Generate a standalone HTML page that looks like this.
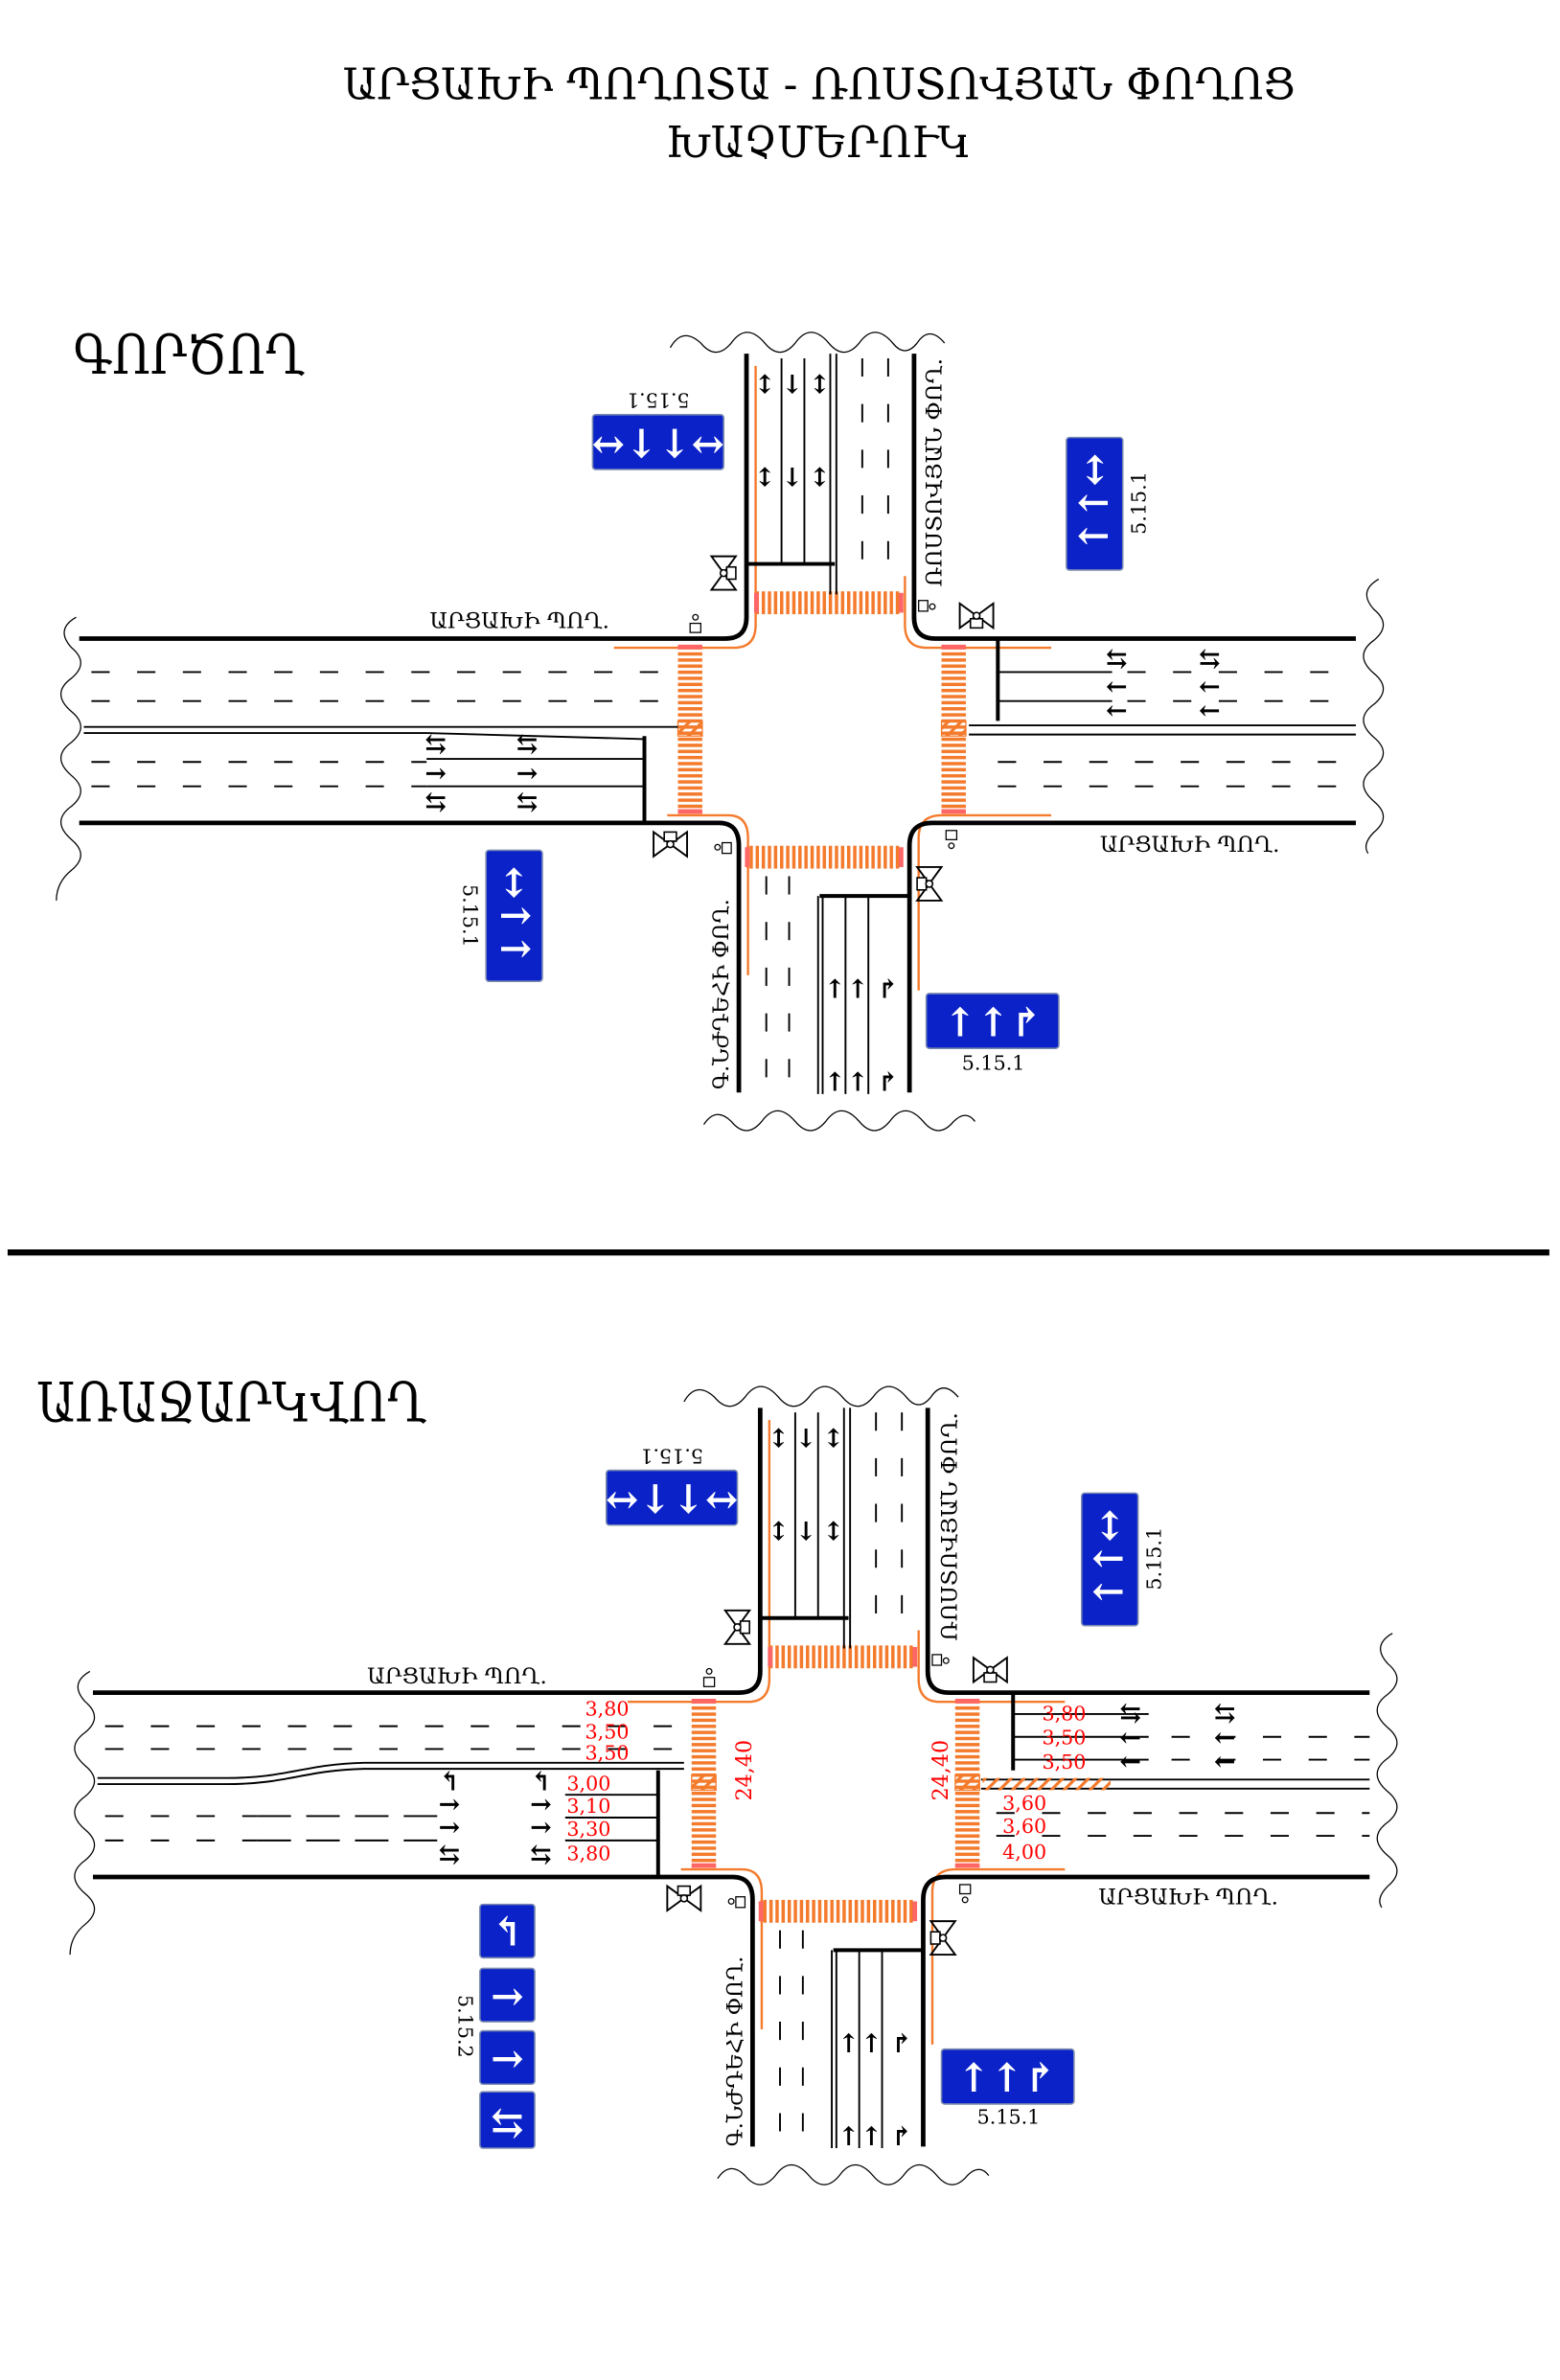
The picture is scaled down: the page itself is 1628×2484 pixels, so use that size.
<!DOCTYPE html>
<html><head><meta charset="utf-8"><style>
html,body{margin:0;padding:0;background:#fff}
svg{display:block}
text{font-family:"DejaVu Serif","DejaVu Sans",serif}
.s{font-family:"Liberation Sans","DejaVu Sans",sans-serif}
</style></head><body>
<svg width="1628" height="2484" viewBox="0 0 1024 1562" xmlns="http://www.w3.org/2000/svg">
<defs>
<pattern id="vs" width="4" height="10" patternUnits="userSpaceOnUse"><rect width="2.2" height="10" fill="#f47a2c"/></pattern>
<pattern id="hs" width="10" height="4" patternUnits="userSpaceOnUse"><rect width="10" height="2.2" fill="#f47a2c"/></pattern>
<pattern id="hatch" width="6" height="6" patternUnits="userSpaceOnUse" patternTransform="rotate(45)"><rect width="2" height="6" fill="#f47a2c"/></pattern>
<g id="sig">
<path d="M-8,-11 L8,-11 L0,0 Z M-8,11 L8,11 L0,0 Z" fill="none" stroke="#000" stroke-width="1.2"/>
<rect x="2" y="-4" width="6" height="8" fill="#fff" stroke="#000"/>
<circle cx="0" cy="0" r="2.2" fill="#fff" stroke="#000"/>
</g>
<g id="base">
<g fill="none" stroke="#f47a2c" stroke-width="1.5">
<path d="M403,425 H482 Q496,425 496,410 V240"/>
<path d="M594,378 V410 Q594,425 608,425 H690"/>
<path d="M438,535 H478 Q491,535 491,550 V640"/>
<path d="M603,650 V550 Q603,535 618,535 H690"/>
</g>
<g fill="none" stroke="#000" stroke-width="3">
<path d="M52,419 H476 Q490,419 490,405 V232"/>
<path d="M600,232 V405 Q600,419 614,419 H890"/>
<path d="M52,540 H472 Q485,540 485,555 V717"/>
<path d="M597,717 V555 Q597,540 612,540 H890"/>
</g>
<g fill="none" stroke="#000" stroke-width="0.8">
<path d="M440,228 q8,-14 20,-3 q10,12 20,0 q10,-14 22,0 q10,12 20,0 q10,-14 22,0 q10,12 20,0 q10,-14 22,0 q8,10 16,0 q8,-12 18,0"/>
<path d="M462,738 q8,-12 18,-2 q10,12 20,0 q10,-14 22,0 q10,12 20,0 q10,-14 22,0 q10,12 20,0 q10,-14 22,0 q10,12 20,0 q8,-8 14,0"/>
<path d="M50,405 q-14,8 -3,20 q12,10 0,20 q-14,10 0,22 q12,10 0,20 q-14,10 0,22 q12,10 0,20 q-14,10 0,22 q12,10 0,20 q-10,8 -10,20"/>
<path d="M905,380 q-14,8 -3,20 q12,10 0,20 q-14,10 0,22 q12,10 0,20 q-14,10 0,22 q12,10 0,20 q-14,10 0,22 q12,10 0,20 q-8,8 -4,14"/>
</g>
<rect x="496" y="388" width="96" height="15" fill="url(#vs)"/>
<rect x="490" y="555" width="102" height="15" fill="url(#vs)"/>
<rect x="445" y="424" width="16" height="110" fill="url(#hs)"/>
<rect x="618" y="424" width="16" height="110" fill="url(#hs)"/>
<rect x="445" y="473" width="16" height="10" fill="url(#hatch)" stroke="#f47a2c" stroke-width="0.8"/>
<rect x="618" y="473" width="16" height="10" fill="url(#hatch)" stroke="#f47a2c" stroke-width="0.8"/>
<g><rect x="495" y="389" width="3" height="13" fill="#f66"/><rect x="590" y="389" width="3" height="13" fill="#f66"/><rect x="489" y="556" width="3" height="13" fill="#f66"/><rect x="590" y="556" width="3" height="13" fill="#f66"/><rect x="445" y="423" width="16" height="3" fill="#f66"/><rect x="618" y="423" width="16" height="3" fill="#f66"/><rect x="445" y="531" width="16" height="3" fill="#f66"/><rect x="618" y="531" width="16" height="3" fill="#f66"/></g>
<use href="#sig" transform="translate(475,376)"/>
<use href="#sig" transform="translate(641,404) rotate(90)"/>
<use href="#sig" transform="translate(440,554) rotate(-90)"/>
<use href="#sig" transform="translate(610,580) rotate(180)"/>
<g fill="#fff" stroke="#000" stroke-width="0.8">
<rect x="453" y="409" width="7" height="6"/><circle cx="456.5" cy="405" r="1.8"/>
<rect x="603" y="394" width="6" height="7"/><circle cx="612" cy="398" r="1.8"/>
<rect x="474" y="553" width="6" height="7"/><circle cx="471" cy="556" r="1.8"/>
<rect x="621" y="545" width="7" height="6"/><circle cx="624.5" cy="555" r="1.8"/>
</g>
</g>
</defs>

<text x="225" y="65" font-size="28" textLength="625" lengthAdjust="spacingAndGlyphs">ԱՐՑԱԽԻ ՊՈՂՈՏԱ - ՌՈՍՏՈՎՅԱՆ ՓՈՂՈՑ</text>
<text x="437" y="103" font-size="28" textLength="200" lengthAdjust="spacingAndGlyphs">ԽԱՉՄԵՐՈՒԿ</text>
<text x="48" y="245" font-size="36" textLength="152" lengthAdjust="spacingAndGlyphs">ԳՈՐԾՈՂ</text>
<text x="24" y="933" font-size="36" textLength="256" lengthAdjust="spacingAndGlyphs">ԱՌԱՋԱՐԿՎՈՂ</text>
<rect x="5" y="820" width="1012" height="4" fill="#000"/>

<!-- TOP -->
<use href="#base"/>
<g stroke="#000" fill="none" stroke-width="1.2">
<path d="M60,441 H440 M60,460 H440 M60,500 H280 M60,516 H280" stroke-dasharray="12 18"/>
<path d="M55,477 H445 M55,481 H280 L423,485"/>
<path d="M280,498 H422 M280,516 H422"/>
<path d="M423,483 V540" stroke-width="2.5"/>
<path d="M655,441 H730 M655,460 H730"/>
<path d="M740,441 H890 M740,460 H890 M655,500 H890 M655,516 H890" stroke-dasharray="12 18"/>
<path d="M655,419 V473" stroke-width="2.5"/>
<path d="M636,476 H890 M636,482 H890"/>
<path d="M513,235 V370 M528,235 V370"/>
<path d="M545,232 V390 M549,232 V390"/>
<path d="M566,235 V370 M583,235 V370" stroke-dasharray="12 18"/>
<path d="M490,370 H548" stroke-width="2.5"/>
<path d="M503,575 V715 M518,575 V715" stroke-dasharray="12 18"/>
<path d="M537,588 V718 M540,588 V718"/>
<path d="M555,588 V718 M570,588 V718"/>
<path d="M538,588 H597" stroke-width="2.5"/>
</g>
<g font-size="17" font-weight="bold" class="s" text-anchor="middle">
<text x="286" y="494">⇆</text><text x="286" y="513">→</text><text x="286" y="532">⇆</text>
<text x="346" y="494">⇆</text><text x="346" y="513">→</text><text x="346" y="532">⇆</text>
<text x="733" y="438">⇆</text><text x="733" y="456">←</text><text x="733" y="472">←</text>
<text x="794" y="438">⇆</text><text x="794" y="456">←</text><text x="794" y="472">←</text>
<text x="502" y="258">↕</text><text x="520" y="258">↓</text><text x="538" y="258">↕</text>
<text x="502" y="319">↕</text><text x="520" y="319">↓</text><text x="538" y="319">↕</text>
<text x="548" y="655">↑</text><text x="563" y="655">↑</text><text x="583" y="655">↱</text>
<text x="548" y="716">↑</text><text x="563" y="716">↑</text><text x="583" y="716">↱</text>
</g>
<g fill="#0a22c8" stroke="#7a8ab0" stroke-width="1">
<rect x="389" y="272" width="86" height="36" rx="2"/>
<rect x="700" y="287" width="37" height="87" rx="2"/>
<rect x="319" y="558" width="37" height="86" rx="2"/>
<rect x="608" y="652" width="87" height="36" rx="2"/>
</g>
<g fill="#fff" font-size="26" font-weight="bold" class="s" text-anchor="middle">
<text x="432" y="300">↔↓↓↔</text>
<text x="718" y="339" transform="rotate(-90 718 330)">↑↑↔</text>
<text x="338" y="610" transform="rotate(90 338 601)">↔↑↑</text>
<text x="652" y="680">↑↑↱</text>
</g>
<g font-size="13" class="s" text-anchor="middle">
<text x="432" y="268" transform="rotate(180 432 263)">5.15.1</text>
<text x="748" y="334" transform="rotate(-90 748 330)">5.15.1</text>
<text x="308" y="605" transform="rotate(90 308 601)">5.15.1</text>
<text x="652" y="702">5.15.1</text>
</g>
<g font-size="14">
<text x="282" y="412" textLength="118" lengthAdjust="spacingAndGlyphs">ԱՐՑԱԽԻ ՊՈՂ.</text>
<text x="722" y="559" textLength="118" lengthAdjust="spacingAndGlyphs">ԱՐՑԱԽԻ ՊՈՂ.</text>
<text x="0" y="0" textLength="150" lengthAdjust="spacingAndGlyphs" transform="translate(618,385) rotate(-90)">ՌՈՍՏՈՎՅԱՆ ՓՈՂ.</text>
<text x="0" y="0" textLength="125" lengthAdjust="spacingAndGlyphs" transform="translate(478,715) rotate(-90)">Գ.ՆԺԴԵՀԻ ՓՈՂ.</text>
</g>

<!-- BOTTOM -->
<g transform="translate(9,692)">
<use href="#base"/>
<g stroke="#000" fill="none" stroke-width="1.2">
<path d="M60,441 H440 M60,456 H440 M60,500 H160 M60,516 H160" stroke-dasharray="12 18"/>
<path d="M160,500 H280 M160,516 H280" stroke-dasharray="22 10"/>
<path d="M55,475 H140 C180,475 190,466 230,465 H440 M55,479 H140 C180,479 190,470 230,469 H440"/>
<path d="M362,486 H423 M362,501 H423 M362,516 H423"/>
<path d="M423,470 V540" stroke-width="2.5"/>
<path d="M656,433 H745 M656,448 H745 M656,463 H745"/>
<path d="M760,448 H890 M760,463 H890 M645,498 H890 M645,513 H890" stroke-dasharray="12 18"/>
<path d="M656,419 V470" stroke-width="2.5"/>
<path d="M635,476 H890 M635,482 H890"/>
<path d="M513,235 V370 M528,235 V370"/>
<path d="M545,232 V390 M549,232 V390"/>
<path d="M566,235 V370 M583,235 V370" stroke-dasharray="12 18"/>
<path d="M490,370 H548" stroke-width="2.5"/>
<path d="M503,575 V715 M518,575 V715" stroke-dasharray="12 18"/>
<path d="M537,588 V718 M540,588 V718"/>
<path d="M555,588 V718 M570,588 V718"/>
<path d="M538,588 H597" stroke-width="2.5"/>
</g>
<rect x="636" y="475" width="84" height="8" fill="url(#hatch)"/>
<g font-size="17" font-weight="bold" class="s" text-anchor="middle">
<text x="286" y="483">↰</text><text x="286" y="498">→</text><text x="286" y="513">→</text><text x="286" y="531">⇆</text>
<text x="346" y="483">↰</text><text x="346" y="498">→</text><text x="346" y="513">→</text><text x="346" y="531">⇆</text>
<text x="733" y="438">⇆</text><text x="733" y="454">←</text><text x="733" y="470">←</text>
<text x="795" y="438">⇆</text><text x="795" y="454">←</text><text x="795" y="470">←</text>
<text x="502" y="258">↕</text><text x="520" y="258">↓</text><text x="538" y="258">↕</text>
<text x="502" y="319">↕</text><text x="520" y="319">↓</text><text x="538" y="319">↕</text>
<text x="548" y="655">↑</text><text x="563" y="655">↑</text><text x="583" y="655">↱</text>
<text x="548" y="716">↑</text><text x="563" y="716">↑</text><text x="583" y="716">↱</text>
</g>
<g fill="#f00" font-size="13" font-family="Liberation Serif,serif">
<text x="375" y="434">3,80</text><text x="375" y="449">3,50</text><text x="375" y="463">3,50</text>
<text x="363" y="483">3,00</text><text x="363" y="498">3,10</text><text x="363" y="513">3,30</text><text x="363" y="529">3,80</text>
<text x="675" y="437">3,80</text><text x="675" y="453">3,50</text><text x="675" y="469">3,50</text>
<text x="649" y="496">3,60</text><text x="649" y="511">3,60</text><text x="649" y="528">4,00</text>
<text x="0" y="0" font-size="14" transform="translate(484,490) rotate(-90)">24,40</text>
<text x="0" y="0" font-size="14" transform="translate(613,490) rotate(-90)">24,40</text>
</g>
<g fill="#0a22c8" stroke="#7a8ab0" stroke-width="1">
<rect x="389" y="273" width="86" height="36" rx="2"/>
<rect x="701" y="288" width="37" height="87" rx="2"/>
<rect x="609" y="653" width="87" height="36" rx="2"/>
<rect x="306" y="558" width="36" height="35" rx="2"/>
<rect x="306" y="600" width="36" height="35" rx="2"/>
<rect x="306" y="641" width="36" height="35" rx="2"/>
<rect x="306" y="681" width="36" height="37" rx="2"/>
</g>
<g fill="#fff" font-size="26" font-weight="bold" class="s" text-anchor="middle">
<text x="432" y="301">↔↓↓↔</text>
<text x="719" y="340" transform="rotate(-90 719 331)">↑↑↔</text>
<text x="652" y="681">↑↑↱</text>
<text x="324" y="585">↰</text><text x="324" y="627">→</text><text x="324" y="668">→</text><text x="324" y="710">⇆</text>
</g>
<g font-size="13" class="s" text-anchor="middle">
<text x="432" y="269" transform="rotate(180 432 264)">5.15.1</text>
<text x="749" y="335" transform="rotate(-90 749 331)">5.15.1</text>
<text x="296" y="642" transform="rotate(90 296 638)">5.15.2</text>
<text x="653" y="702">5.15.1</text>
</g>
<g font-size="14">
<text x="232" y="413" textLength="118" lengthAdjust="spacingAndGlyphs">ԱՐՑԱԽԻ ՊՈՂ.</text>
<text x="712" y="558" textLength="118" lengthAdjust="spacingAndGlyphs">ԱՐՑԱԽԻ ՊՈՂ.</text>
<text x="0" y="0" textLength="150" lengthAdjust="spacingAndGlyphs" transform="translate(619,385) rotate(-90)">ՌՈՍՏՈՎՅԱՆ ՓՈՂ.</text>
<text x="0" y="0" textLength="125" lengthAdjust="spacingAndGlyphs" transform="translate(478,717) rotate(-90)">Գ.ՆԺԴԵՀԻ ՓՈՂ.</text>
</g>
</g>
</svg>
</body></html>
